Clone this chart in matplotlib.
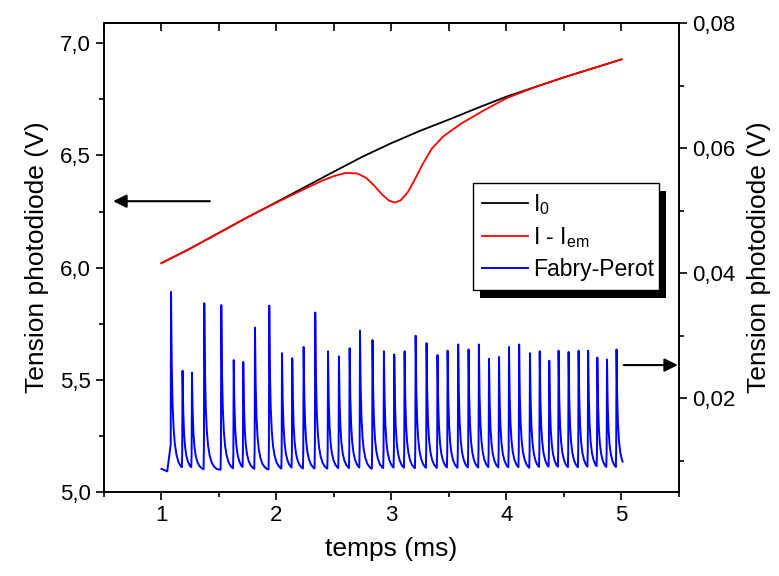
import numpy as np
import matplotlib
matplotlib.use('Agg')
import matplotlib.pyplot as plt
from matplotlib.ticker import FuncFormatter, MultipleLocator
from matplotlib.patches import Rectangle

plt.rcParams['font.family'] = ['Liberation Sans', 'DejaVu Sans']
plt.rcParams['mathtext.fontset'] = 'custom'
plt.rcParams['mathtext.rm'] = 'Liberation Sans'

# I0 (black), left axis
t_i0 = [1.0, 1.25, 1.5, 1.75, 2.0, 2.25, 2.5, 2.75, 3.0, 3.25, 3.5, 3.75,
        4.0, 4.25, 4.5, 4.75, 5.0]
v_i0 = [6.020, 6.085, 6.155, 6.225, 6.292, 6.36, 6.428, 6.495, 6.555, 6.61,
        6.66, 6.712, 6.762, 6.805, 6.848, 6.888, 6.928]

# I - Iem (red), left axis
t_iem = [1.0, 1.25, 1.5, 1.75, 2.0, 2.25, 2.4, 2.5, 2.6, 2.7, 2.78, 2.85,
         2.92, 2.98, 3.03, 3.08, 3.14, 3.2, 3.27, 3.35, 3.45, 3.6, 3.8, 4.0,
         4.25, 4.5, 4.75, 5.0]
v_iem = [6.020, 6.085, 6.155, 6.225, 6.290, 6.352, 6.388, 6.408, 6.422,
         6.42, 6.40, 6.365, 6.325, 6.298, 6.29, 6.30, 6.335, 6.39, 6.46,
         6.53, 6.585, 6.64, 6.70, 6.755, 6.805, 6.848, 6.888, 6.928]

# Fabry-Perot peaks, right axis
fp_t = [1.083, 1.183, 1.265, 1.372, 1.52, 1.628, 1.711, 1.813, 1.937, 2.048,
        2.137, 2.236, 2.337, 2.448, 2.543, 2.636, 2.726, 2.835, 2.934, 3.024,
        3.114, 3.21, 3.305, 3.40, 3.488, 3.58, 3.67, 3.76, 3.848, 3.935,
        4.022, 4.11, 4.204, 4.289, 4.372, 4.453, 4.54, 4.627, 4.71, 4.79,
        4.874, 4.957]
fp_h = [0.0370, 0.0244, 0.0241, 0.0352, 0.0349, 0.0261, 0.0258, 0.0313,
        0.0348, 0.0272, 0.0264, 0.0282, 0.0337, 0.0275, 0.0267, 0.0280,
        0.0308, 0.0293, 0.0275, 0.0270, 0.0275, 0.0300, 0.0288, 0.0269,
        0.0276, 0.0286, 0.0278, 0.0286, 0.0263, 0.0266, 0.0282, 0.0286,
        0.0272, 0.0275, 0.0260, 0.0276, 0.0274, 0.0276, 0.0276, 0.0265,
        0.0262, 0.0278]
fp_base = 0.0084
fp_start = (1.0, 0.0087)
fp_end = 5.01
# decay shape of one peak (time after peak, fraction)
decay_dt = [0.0, 0.006, 0.013, 0.022, 0.033, 0.047, 0.064, 0.085, 0.11, 0.2]
decay_f = [1.0, 0.60, 0.38, 0.24, 0.15, 0.09, 0.05, 0.025, 0.01, 0.0]

fp_x = [fp_start[0], 1.05]
fp_y = [fp_start[1], 0.0083]
for k, (tp, hp) in enumerate(zip(fp_t, fp_h)):
    nxt = fp_t[k + 1] if k + 1 < len(fp_t) else fp_end
    fp_x.append(tp - 0.003)
    fp_y.append(fp_y[-1] + 0.15 * (hp - fp_y[-1]))
    fp_x.append(tp)
    fp_y.append(hp)
    stop = nxt - 0.006 if k + 1 < len(fp_t) else nxt
    for d, f in zip(decay_dt[1:], decay_f[1:]):
        if tp + d >= stop:
            break
        fp_x.append(tp + d)
        fp_y.append(fp_base + (hp - fp_base) * f)
    fs = np.interp(stop - tp, decay_dt, decay_f)
    fp_x.append(stop)
    fp_y.append(fp_base + (hp - fp_base) * fs)

fig = plt.figure(figsize=(7.79, 5.76), dpi=100)
ax = fig.add_axes([0.1335, 0.1458, 0.7381, 0.8142])
ax2 = ax.twinx()

l0, = ax.plot(t_i0, v_i0, color='black', lw=1.3, label=r'I$_\mathregular{0}$')
l1, = ax.plot(t_iem, v_iem, color='red', lw=1.3,
              label=r'I - I$_\mathregular{em}$')
l2, = ax2.plot(fp_x, fp_y, color='blue', lw=1.4, label='Fabry-Perot')

ax.set_xlim(0.5, 5.5)
ax.set_ylim(5.0, 7.09)
ax2.set_ylim(0.005, 0.08)

ax.xaxis.set_major_locator(MultipleLocator(1))
ax.xaxis.set_minor_locator(MultipleLocator(0.5))
ax.yaxis.set_major_locator(MultipleLocator(0.5))
ax.yaxis.set_minor_locator(MultipleLocator(0.25))
ax2.yaxis.set_major_locator(MultipleLocator(0.02))
ax2.yaxis.set_minor_locator(MultipleLocator(0.01))

ax.yaxis.set_major_formatter(FuncFormatter(lambda v, p: f'{v:.1f}'.replace('.', ',')))
ax2.yaxis.set_major_formatter(FuncFormatter(lambda v, p: f'{v:.2f}'.replace('.', ',')))

ax.tick_params(axis='both', which='major', direction='out', length=6,
               width=1.2, labelsize=16)
ax.tick_params(axis='both', which='minor', direction='out', length=3.5,
               width=1.2)
ax2.tick_params(axis='y', which='major', direction='out', length=6,
                width=1.2, labelsize=16)
ax2.tick_params(axis='y', which='minor', direction='out', length=3.5,
                width=1.2)

top = ax.secondary_xaxis('top')
top.xaxis.set_major_locator(MultipleLocator(1))
top.xaxis.set_minor_locator(MultipleLocator(0.5))
top.tick_params(which='both', direction='in', length=6, width=1.2,
                labeltop=False)

for a in (ax, ax2):
    for s in a.spines.values():
        s.set_linewidth(1.2)
for s in top.spines.values():
    s.set_linewidth(1.2)

ax.set_xlabel('temps (ms)', fontsize=19, labelpad=8)
ax.set_ylabel('Tension photodiode (V)', fontsize=19, labelpad=8)
ax2.set_ylabel('Tension photodiode (V)', fontsize=19, labelpad=8)

ax.annotate('', xy=(0.58, 6.296), xytext=(1.42, 6.296),
            arrowprops=dict(arrowstyle='-|>', color='black', lw=1.5,
                            mutation_scale=20, shrinkA=0, shrinkB=0))
ax2.annotate('', xy=(5.49, 0.0253), xytext=(5.02, 0.0253),
             arrowprops=dict(arrowstyle='-|>', color='black', lw=1.5,
                             mutation_scale=20, shrinkA=0, shrinkB=0))

leg = ax2.legend(handles=[l0, l1, l2], loc='upper left',
                 bbox_to_anchor=(0.642, 0.437, 0.323, 0.222), mode='expand',
                 fontsize=16.5, frameon=True, fancybox=False, framealpha=1,
                 edgecolor='black', handlelength=2.0, handletextpad=0.2,
                 labelspacing=0.35, borderpad=0.4, borderaxespad=0)
leg.get_frame().set_linewidth(1.0)
leg.set_zorder(10)

fig.canvas.draw()
bb = leg.get_window_extent().transformed(fig.transFigure.inverted())
off_x = 7 / 779
off_y = 8 / 576
shadow = Rectangle((bb.x0 + off_x, bb.y0 - off_y), bb.width, bb.height,
                   transform=fig.transFigure, facecolor='black',
                   edgecolor='none', zorder=9, clip_on=False)
ax2.add_patch(shadow)

fig.savefig('out.png', dpi=100)
